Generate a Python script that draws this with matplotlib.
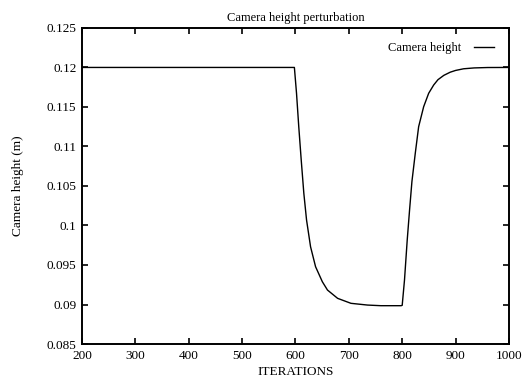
#!/usr/bin/env python3
import numpy as np
import matplotlib
matplotlib.use("Agg")
import matplotlib.pyplot as plt

# values
iterations = [200, 598, 602, 606.2, 610.8, 615.7, 620.8, 628.3, 637.7, 650.4, 660,
              679, 704, 735, 760, 798,
              800, 804.3, 809.4, 813.8, 818.2, 824.5, 830.8, 840.2, 849.6, 859, 867,
              878, 890, 900, 915, 935, 960, 1000]
height = [0.12, 0.12, 0.11673, 0.1125, 0.10829, 0.10407, 0.10069, 0.09731, 0.09478,
          0.09288, 0.09183, 0.09078, 0.09015, 0.08993, 0.08985, 0.08985,
          0.0899, 0.0931, 0.09816, 0.10196, 0.10555, 0.10914, 0.1125, 0.11503,
          0.11673, 0.11778, 0.11845, 0.119, 0.1194, 0.11962, 0.11983, 0.11994,
          0.11999, 0.12]
xticks = [200, 300, 400, 500, 600, 700, 800, 900, 1000]
yticks = [0.085, 0.09, 0.095, 0.1, 0.105, 0.11, 0.115, 0.12, 0.125]
ytick_labels = ["0.085", "0.09", "0.095", "0.1", "0.105", "0.11", "0.115", "0.12", "0.125"]

plt.rcParams['font.family'] = ['Liberation Serif', 'DejaVu Serif']

fig = plt.figure(figsize=(5.22, 3.79), dpi=100)
ax = fig.add_axes([0.157, 0.0923, 0.818, 0.834])

ax.plot(iterations, height, color='black', linewidth=1.0, label='Camera height')

ax.set_xlim(200, 1000)
ax.set_ylim(0.085, 0.125)
ax.set_xticks(xticks)
ax.set_yticks(yticks)
ax.set_yticklabels(ytick_labels)
ax.tick_params(direction='in', top=True, right=True, length=4, width=1.2,
               labelsize=9.5, pad=4)
for s in ax.spines.values():
    s.set_linewidth(1.4)

ax.set_title("Camera height perturbation", fontsize=9, pad=5)
ax.set_xlabel("ITERATIONS", fontsize=9.5, labelpad=3)
ax.set_ylabel("Camera height (m)", fontsize=9.5, labelpad=16)

leg = ax.legend(loc='upper right', bbox_to_anchor=(0.985, 0.982), frameon=False,
                fontsize=9, markerfirst=False, handlelength=1.6,
                handletextpad=1.0, borderaxespad=0.3)

fig.savefig("out.png", dpi=100)
